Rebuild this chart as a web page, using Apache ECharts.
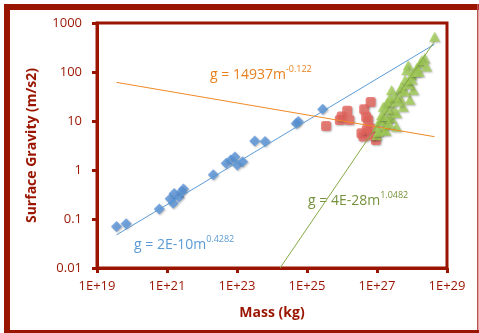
<!DOCTYPE html>
<html>
<head>
<meta charset="utf-8">
<script src="https://cdn.jsdelivr.net/npm/echarts@6/dist/echarts.min.js"></script>
<style>
html,body{margin:0;padding:0;background:#fff;}
#c{width:479px;height:333px;}
</style>
</head>
<body>
<div id="c"></div>
<script>
// Mass (kg) / surface gravity (m/s2) values
var smallMass = [3.6e19,6.8e19,6.0e20,1.23e21,1.6e21,1.5e21,2.2e21,2.95e21,2.6e21,2.1e22,4.9e22,6.6e22,8.7e22,1.02e23,1.45e23,3.2e23,6.3e23,4.9e24,5.6e24,2.8e25];
var smallG    = [0.07,0.08,0.16,0.26,0.33,0.21,0.28,0.41,0.36,0.8,1.37,1.6,1.85,1.26,1.48,3.9,3.8,8.9,9.8,17.4];

var midMass = [3.5e25,8.7e25,9.8e25,1.41e26,1.62e26,4.3e26,6.6e26,4.9e26,5.6e26,3.6e26,4.1e26,5.1e26,6.3e26,9.3e26,7.1e26];
var midG    = [7.9,10.5,12.3,16.2,10.5,17.4,24.5,12.0,10.5,5.6,4.8,6.6,7.1,4.1,5.1];

var bigMass = [4.4e28,2.3e28,1.7e28,1.35e28,7.8e27,7.1e27,7.8e27,4.6e27,4.6e27,2.6e27,2.3e27,2.95e27,1.9e27,1.5e27,1.35e27,1.23e27,1.02e27,9.8e26,1.5e27,1.9e27,2.6e27,3.6e27,5.6e27,8.7e27,1.1e28,6.3e27,9.8e27,1.9e28,2.6e28,3.6e27,2.1e27,1.1e27,
               1.26e27,1.6e27,2.0e27,2.5e27,3.2e27,4.0e27,5.0e27,6.3e27,7.9e27,1.0e28,1.26e28,1.6e28,1.8e27,2.2e27];
var bigG    = [525,190,151,120,138,110,63,43,29,43,29,16.6,23,19.5,13.2,10.5,7.6,5.1,6.6,8.3,11.5,14.5,19.5,27,43,69,87,174,129,7.6,11.5,6.0,
               10,12.6,17.8,25,31.6,25,50,40,56,70,100,100,6.3,8.9];

// trendlines g = a * m^b
var trendNames = ['blue','orange','green'];
var trendA = [2e-10, 14937, 4e-28];
var trendB = [0.4282, -0.122, 1.0482];

var xTickExp = [19,21,23,25,27,29];
var yTickLabels = ['0.01','0.1','1','10','100','1000'];

var darkRed = '#9A1500';
var font = '"Open Sans", "DejaVu Sans", sans-serif';

function pairs(xs, ys){ return xs.map(function(x,i){return [x, ys[i]];}); }
var allX = smallMass.concat(midMass, bigMass);
var xMin = Math.min.apply(null, allX), xMax = Math.max.apply(null, allX);
function trend(i){
  var a = trendA[i], b = trendB[i];
  var x0 = xMin;
  var g0 = a*Math.pow(x0,b);
  if (g0 < 0.01) { x0 = Math.pow(0.01/a, 1/b); }
  return [[x0, a*Math.pow(x0,b)], [xMax, a*Math.pow(xMax,b)]];
}

var markerShadow = {shadowBlur:2, shadowColor:'rgba(0,0,0,0.35)', shadowOffsetX:1, shadowOffsetY:1};

var chart = echarts.init(document.getElementById('c'), null, {renderer:'canvas'});
chart.setOption({
  animation:false,
  backgroundColor:'#fff',
  grid:{left:97, right:32, top:23, bottom:65, show:true, borderColor:darkRed, borderWidth:3, backgroundColor:'transparent'},
  xAxis:{
    type:'log', logBase:10, min:Math.pow(10,xTickExp[0]), max:Math.pow(10,xTickExp[xTickExp.length-1]), interval:2,
    name:'Mass (kg)', nameLocation:'middle', nameGap:38,
    nameTextStyle:{color:darkRed, fontFamily:font, fontWeight:'bold', fontSize:14},
    axisLine:{lineStyle:{color:darkRed, width:3}},
    axisTick:{show:true, length:5, lineStyle:{color:darkRed, width:3}},
    minorTick:{show:false},
    splitLine:{show:false},
    axisLabel:{color:darkRed, fontFamily:font, fontSize:13, margin:12,
      formatter:function(v){ return '1E+' + Math.round(Math.log10(v)); }}
  },
  yAxis:{
    type:'log', logBase:10, min:0.01, max:1000, interval:1,
    name:'Surface Gravity (m/s2)', nameLocation:'middle', nameGap:58,
    nameTextStyle:{color:darkRed, fontFamily:font, fontWeight:'bold', fontSize:14},
    axisLine:{lineStyle:{color:darkRed, width:3}},
    axisTick:{show:true, length:5, lineStyle:{color:darkRed, width:3}},
    splitLine:{show:false},
    axisLabel:{color:darkRed, fontFamily:font, fontSize:13, margin:15,
      formatter:function(v){ var e = Math.round(Math.log10(v)); return yTickLabels[e+2]; }}
  },
  series:[
    {type:'scatter', data:pairs(smallMass, smallG), symbol:'diamond', symbolSize:11,
      itemStyle:Object.assign({color:'#5A96DB'}, markerShadow), z:3},
    {type:'scatter', data:pairs(midMass, midG), symbol:'roundRect', symbolSize:10,
      itemStyle:Object.assign({color:'#E8665F'}, markerShadow), z:3},
    {type:'scatter', data:pairs(bigMass, bigG), symbol:'triangle', symbolSize:[11,10],
      itemStyle:Object.assign({color:'#A3CE57'}, markerShadow), z:4},
    {type:'line', data:trend(0), showSymbol:false, symbol:'none', lineStyle:{color:'#5B9BD5', width:1}, z:5, clip:true},
    {type:'line', data:trend(1), showSymbol:false, symbol:'none', lineStyle:{color:'#F08A24', width:1}, z:5, clip:true},
    {type:'line', data:trend(2), showSymbol:false, symbol:'none', lineStyle:{color:'#86A845', width:1}, z:5, clip:true}
  ],
  graphic:[
    {type:'rect', shape:{x:4, y:4, width:475, height:6}, style:{fill:darkRed}},
    {type:'rect', shape:{x:4, y:4, width:6, height:329}, style:{fill:darkRed}},
    {type:'rect', shape:{x:477, y:4, width:1.5, height:329}, style:{fill:'#C0504D'}},
    {type:'rect', shape:{x:4, y:330, width:475, height:3}, style:{fill:darkRed}},
    {type:'text', left:210, top:65, style:{
      text:'{a|g = 14937m}{s|-0.122}', fill:'#E8801E',
      rich:{a:{fontSize:14, fontFamily:font, fill:'#E8801E', verticalAlign:'bottom', lineHeight:17},
            s:{fontSize:9, fontFamily:font, fill:'#E8801E', verticalAlign:'top', lineHeight:17}}}},
    {type:'text', left:134, top:235, style:{
      text:'{a|g = 2E-10m}{s|0.4282}', fill:'#5B9BD5',
      rich:{a:{fontSize:14, fontFamily:font, fill:'#5B9BD5', verticalAlign:'bottom', lineHeight:17},
            s:{fontSize:9, fontFamily:font, fill:'#5B9BD5', verticalAlign:'top', lineHeight:17}}}},
    {type:'text', left:308, top:191, style:{
      text:'{a|g = 4E-28m}{s|1.0482}', fill:'#76923C',
      rich:{a:{fontSize:14, fontFamily:font, fill:'#76923C', verticalAlign:'bottom', lineHeight:17},
            s:{fontSize:9, fontFamily:font, fill:'#76923C', verticalAlign:'top', lineHeight:17}}}}
  ]
});
</script>
</body>
</html>
